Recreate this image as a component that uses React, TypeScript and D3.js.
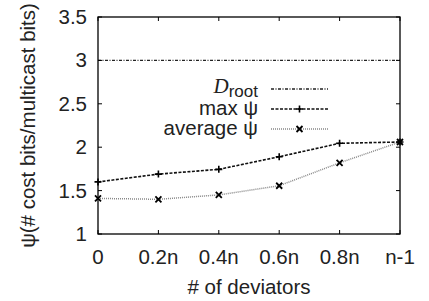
import React, { useEffect, useRef } from "react";
import * as d3 from "d3";

const categories = ["0", "0.2n", "0.4n", "0.6n", "0.8n", "n-1"];
const maxPsi = [1.6, 1.69, 1.745, 1.89, 2.045, 2.06];
const avgPsi = [1.41, 1.4, 1.45, 1.556, 1.82, 2.06];
const dRoot = 3;
const yTicks = [1, 1.5, 2, 2.5, 3, 3.5];

const WIDTH = 429;
const HEIGHT = 301;
const MARGIN = { TOP: 17, RIGHT: 29, BOTTOM: 67, LEFT: 98 };
const FONT = "'Liberation Sans', Arial, Helvetica, sans-serif";
const FONT_SIZE = 20.5;
const TICK = 4;

const App = () => {
  const svgRef = useRef<SVGSVGElement>(null);

  useEffect(() => {
    const svg = d3.select(svgRef.current);
    svg.selectAll("*").remove();

    const left = MARGIN.LEFT;
    const right = WIDTH - MARGIN.RIGHT;
    const top = MARGIN.TOP;
    const bottom = HEIGHT - MARGIN.BOTTOM;

    const xScale = d3
      .scalePoint<string>()
      .domain(categories)
      .range([left, right]);
    const yScale = d3.scaleLinear().domain([1, 3.5]).range([bottom, top]);

    const g = svg.append("g");

    // D_root reference line
    g.append("line")
      .attr("x1", left)
      .attr("x2", right)
      .attr("y1", yScale(dRoot))
      .attr("y2", yScale(dRoot))
      .attr("stroke", "#222")
      .attr("stroke-width", 1.3)
      .attr("stroke-dasharray", "3,1.5,1,1.5");

    const line = d3
      .line<number>()
      .x((_, i) => xScale(categories[i])!)
      .y((d) => yScale(d));

    g.append("path")
      .datum(avgPsi)
      .attr("d", line)
      .attr("fill", "none")
      .attr("stroke", "#888")
      .attr("stroke-width", 1.5)
      .attr("stroke-dasharray", "1,1");

    g.append("path")
      .datum(maxPsi)
      .attr("d", line)
      .attr("fill", "none")
      .attr("stroke", "#111")
      .attr("stroke-width", 1.6)
      .attr("stroke-dasharray", "3,1.5");

    const plus = (sel: any, cx: number, cy: number, s = 3.5) => {
      sel
        .append("path")
        .attr("d", `M${cx - s},${cy}H${cx + s}M${cx},${cy - s}V${cy + s}`)
        .attr("stroke", "#000")
        .attr("stroke-width", 1.6);
    };
    const cross = (sel: any, cx: number, cy: number, s = 3) => {
      sel
        .append("path")
        .attr(
          "d",
          `M${cx - s},${cy - s}L${cx + s},${cy + s}M${cx - s},${cy + s}L${cx + s},${cy - s}`
        )
        .attr("stroke", "#000")
        .attr("stroke-width", 1.8);
    };

    maxPsi.forEach((d, i) => plus(g, xScale(categories[i])!, yScale(d)));
    avgPsi.forEach((d, i) => cross(g, xScale(categories[i])!, yScale(d)));

    // frame
    g.append("rect")
      .attr("x", left)
      .attr("y", top)
      .attr("width", right - left)
      .attr("height", bottom - top)
      .attr("fill", "none")
      .attr("stroke", "#000")
      .attr("stroke-width", 1.3);

    // ticks
    categories.forEach((c) => {
      const x = xScale(c)!;
      g.append("path")
        .attr("d", `M${x},${bottom}V${bottom - TICK}M${x},${top}V${top + TICK}`)
        .attr("stroke", "#000")
        .attr("stroke-width", 1);
      g.append("text")
        .attr("x", x)
        .attr("y", bottom + 30)
        .attr("text-anchor", "middle")
        .attr("font-family", FONT)
        .attr("font-size", FONT_SIZE)
        .attr("fill", "#222")
        .text(c);
    });
    yTicks.forEach((t) => {
      const y = yScale(t);
      g.append("path")
        .attr("d", `M${left},${y}H${left + TICK}M${right},${y}H${right - TICK}`)
        .attr("stroke", "#000")
        .attr("stroke-width", 1);
      g.append("text")
        .attr("x", left - 11)
        .attr("y", y + 7)
        .attr("text-anchor", "end")
        .attr("font-family", FONT)
        .attr("font-size", FONT_SIZE)
        .attr("fill", "#222")
        .text(t);
    });

    // axis labels
    g.append("text")
      .attr("x", (left + right) / 2)
      .attr("y", 294)
      .attr("text-anchor", "middle")
      .attr("font-family", FONT)
      .attr("font-size", FONT_SIZE)
      .attr("fill", "#222")
      .text("# of deviators");
    g.append("text")
      .attr("transform", `translate(35,${(top + bottom) / 2}) rotate(-90)`)
      .attr("text-anchor", "middle")
      .attr("font-family", FONT)
      .attr("font-size", FONT_SIZE)
      .attr("fill", "#222")
      .text("ψ(# cost bits/multicast bits)");

    // legend
    const lx1 = 271;
    const lx2 = 328;
    const textX = 258;
    const rows = [89, 109, 129];

    const dText = g
      .append("text")
      .attr("x", textX)
      .attr("y", rows[0] + 4)
      .attr("text-anchor", "end")
      .attr("font-family", FONT)
      .attr("font-size", FONT_SIZE)
      .attr("fill", "#222");
    dText
      .append("tspan")
      .attr("font-family", "'Liberation Serif', 'DejaVu Serif', serif")
      .attr("font-style", "italic")
      .attr("font-size", 21)
      .text("D");
    dText
      .append("tspan")
      .attr("dy", 4)
      .attr("font-size", 17)
      .text("root");

    g.append("line")
      .attr("x1", lx1)
      .attr("x2", lx2)
      .attr("y1", rows[0])
      .attr("y2", rows[0])
      .attr("stroke", "#222")
      .attr("stroke-width", 1.3)
      .attr("stroke-dasharray", "3,1.5,1,1.5");

    g.append("text")
      .attr("x", textX)
      .attr("y", rows[1] + 6)
      .attr("text-anchor", "end")
      .attr("font-family", FONT)
      .attr("font-size", FONT_SIZE)
      .attr("fill", "#222")
      .text("max ψ");
    g.append("line")
      .attr("x1", lx1)
      .attr("x2", lx2)
      .attr("y1", rows[1])
      .attr("y2", rows[1])
      .attr("stroke", "#111")
      .attr("stroke-width", 1.6)
      .attr("stroke-dasharray", "3,1.5");
    plus(g, (lx1 + lx2) / 2, rows[1]);

    g.append("text")
      .attr("x", textX)
      .attr("y", rows[2] + 6)
      .attr("text-anchor", "end")
      .attr("font-family", FONT)
      .attr("font-size", FONT_SIZE)
      .attr("fill", "#222")
      .text("average ψ");
    g.append("line")
      .attr("x1", lx1)
      .attr("x2", lx2)
      .attr("y1", rows[2])
      .attr("y2", rows[2])
      .attr("stroke", "#888")
      .attr("stroke-width", 1.5)
      .attr("stroke-dasharray", "1,1");
    cross(g, (lx1 + lx2) / 2, rows[2]);
  }, []);

  return (
    <svg
      ref={svgRef}
      width={WIDTH}
      height={HEIGHT}
      style={{ position: "absolute", left: 0, top: 0, background: "#fff" }}
    />
  );
};

export default App;
